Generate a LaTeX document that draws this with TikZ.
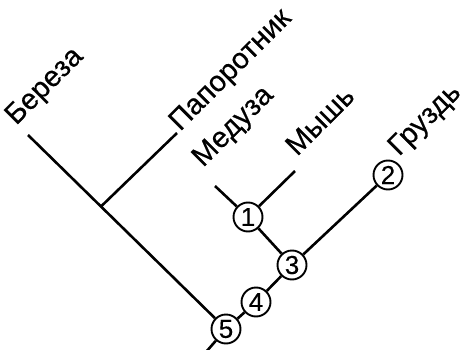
\documentclass[tikz,border=0pt]{standalone}
\usepackage{fontspec}
\setmainfont{Liberation Sans}
\newfontfamily\labelfont{Liberation Sans}[FakeBold=0.4]
\begin{document}
\begin{tikzpicture}[x=1pt,y=-1pt,
  branch/.style={line width=2.6pt},
  numnode/.style={circle,draw,line width=1.9pt,fill=white,minimum size=29pt,inner sep=0pt,font=\labelfont\fontsize{26}{26}\selectfont},
  taxon/.style={rotate=45,anchor=base west,inner sep=0pt,font=\labelfont\fontsize{29}{29}\selectfont}]
\useasboundingbox (0,0) rectangle (465,350);
\begin{scope}
\clip (0,0) rectangle (465,350);
% coordinates
\coordinate (root) at (206,352);
\coordinate (bereza) at (28,135);
\coordinate (j) at (101.5,206);
\coordinate (paporotnik) at (177,133);
\coordinate (meduza) at (215,186);
\coordinate (mysh) at (295,171);
% nodes
\node[numnode] (n5) at (226,329) {5};
\node[numnode] (n4) at (256,302) {4};
\node[numnode] (n3) at (292,265) {3};
\node[numnode] (n1) at (248,217) {1};
\node[numnode] (n2) at (388,175) {2};
% branches
\draw[branch] (root) -- (n5);
\draw[branch] (bereza) -- (n5);
\draw[branch] (j) -- (paporotnik);
\draw[branch] (n5) -- (n4);
\draw[branch] (n4) -- (n3);
\draw[branch] (n3) -- (n2);
\draw[branch] (n3) -- (n1);
\draw[branch] (meduza) -- (n1);
\draw[branch] (n1) -- (mysh);
% labels
\node[taxon] (tb) at (16,126) {Береза};
\node[taxon] (tp) at (180,132) {Папоротник};
\node[taxon] (tm) at (203,168) {Медуза};
\node[taxon] (tmy) at (297,157) {Мышь};
\node[taxon] (tg) at (399,157) {Груздь};
\end{scope}
\end{tikzpicture}
\end{document}
